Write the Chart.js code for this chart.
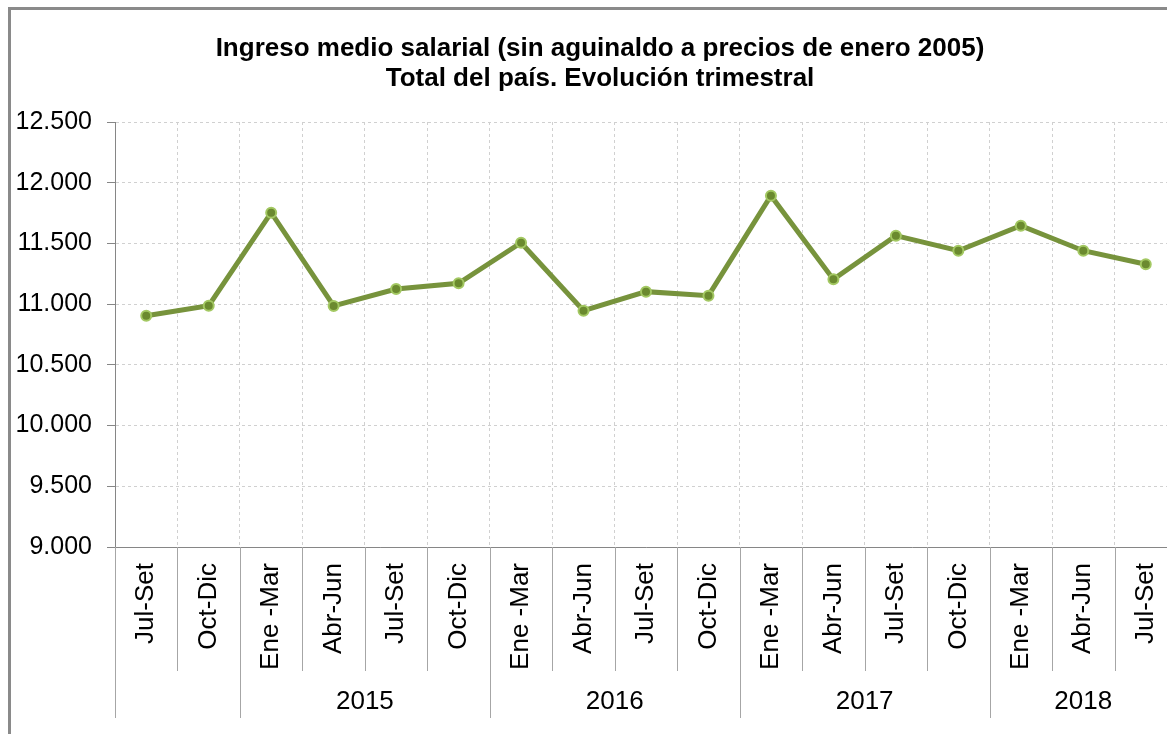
<!DOCTYPE html>
<html>
<head>
<meta charset="utf-8">
<script src="https://cdn.jsdelivr.net/npm/chart.js@4.4.1/dist/chart.umd.min.js"></script>
<style>
  html, body { margin: 0; padding: 0; background: #fff; overflow: hidden; }
  #wrap { position: absolute; left: 0; top: 0; width: 1195px; height: 734px; }
</style>
</head>
<body>
<div id="wrap"><canvas id="myChart" width="1195" height="734"></canvas></div>
<script>
const quarterLabels = ['Jul-Set', 'Oct-Dic',
  'Ene -Mar', 'Abr-Jun', 'Jul-Set', 'Oct-Dic',
  'Ene -Mar', 'Abr-Jun', 'Jul-Set', 'Oct-Dic',
  'Ene -Mar', 'Abr-Jun', 'Jul-Set', 'Oct-Dic',
  'Ene -Mar', 'Abr-Jun', 'Jul-Set']
const salaryValues = [10905, 10987, 11753, 10985, 11125, 11172, 11506, 10946, 11103,
  11070, 11893, 11204, 11564, 11440, 11646, 11440, 11328]
const yearLabels = ['', '2015', '2016', '2017', '2018']
const yearSizes = [2, 4, 4, 4, 3]
const yTicks = [9000, 9500, 10000, 10500, 11000, 11500, 12000, 12500]

const gFont = "'Liberation Sans', Arial, sans-serif"

function fmtThousands(v) {
  return String(v).replace(/\B(?=(\d{3})+(?!\d))/g, '.')
}

// gray frame of the original chart object (only left/top visible)
const frame = {
  id: 'frame',
  beforeDraw(chart) {
    const ctx = chart.ctx
    ctx.save()
    ctx.fillStyle = '#fff'
    ctx.fillRect(0, 0, chart.width, chart.height)
    ctx.fillStyle = '#8a8a8a'
    ctx.fillRect(8, 7, 3, chart.height)
    ctx.fillRect(8, 7, chart.width, 3)
    ctx.restore()
  }
}

// two level category axis: quarter separators + year groups
const axisTiers = {
  id: 'axisTiers',
  afterDraw(chart) {
    const { ctx, scales: { x }, chartArea } = chart
    const half = (x.getPixelForValue(1) - x.getPixelForValue(0)) / 2
    const top = chartArea.bottom
    const tierMid = top + 124
    const tierBottom = top + 171

    let bounds = [0]
    yearSizes.forEach(n => bounds.push(bounds[bounds.length - 1] + n))

    ctx.save()
    ctx.strokeStyle = '#a6a6a6'
    ctx.lineWidth = 1
    for (let i = 0; i <= quarterLabels.length; i++) {
      const px = Math.round(x.getPixelForValue(i) - half) + 0.5
      const yEnd = bounds.includes(i) ? tierBottom : tierMid
      ctx.beginPath()
      ctx.moveTo(px, top)
      ctx.lineTo(px, yEnd)
      ctx.stroke()
    }

    ctx.fillStyle = '#000'
    ctx.font = '26px ' + gFont
    ctx.textAlign = 'center'
    ctx.textBaseline = 'middle'
    yearLabels.forEach((lbl, k) => {
      const a = x.getPixelForValue(bounds[k]) - half
      const b = x.getPixelForValue(bounds[k + 1]) - half
      ctx.fillText(lbl, (a + b) / 2, top + 155)
    })
    ctx.restore()
  }
}

function displayChart() {
  const ctx = document.getElementById('myChart').getContext('2d')
  new Chart(ctx, {
    type: 'line',
    data: {
      labels: quarterLabels,
      datasets: [{
        label: 'Ingreso medio salarial',
        data: salaryValues,
        borderColor: '#77933c',
        borderWidth: 5,
        pointRadius: 5,
        pointBackgroundColor: '#6b8a2f',
        pointBorderColor: '#a3c862',
        pointBorderWidth: 2,
        tension: 0
      }]
    },
    options: {
      responsive: false,
      animation: false,
      devicePixelRatio: 1,
      layout: {
        padding: { left: 5, right: 0, top: 12, bottom: 63 }
      },
      scales: {
        x: {
          offset: true,
          grid: {
            offset: true,
            color: '#d0d0d0',
            drawTicks: false
          },
          border: { display: true, color: '#868686', width: 1, dash: [3, 3] },
          ticks: {
            autoSkip: false,
            minRotation: 90,
            maxRotation: 90,
            padding: 16,
            color: '#000',
            font: { family: gFont, size: 26 }
          },
          afterFit(scale) { scale.height = 124 }
        },
        y: {
          min: 9000,
          max: 12500,
          afterBuildTicks(scale) {
            scale.ticks = yTicks.map(v => ({ value: v }))
          },
          grid: {
            color: '#d0d0d0',
            tickLength: 8,
            tickColor: '#868686',
            tickBorderDash: []
          },
          border: { display: true, color: '#868686', width: 1, dash: [3, 3] },
          ticks: {
            padding: 15,
            color: '#000',
            font: { family: gFont, size: 25 },
            callback: v => fmtThousands(v)
          },
          afterFit(scale) { scale.width = 110 }
        },
        // empty right-hand spacer so the title stays centred on the whole frame
        yPad: {
          position: 'right',
          display: true,
          grid: { display: false },
          border: { display: false },
          ticks: { display: false },
          afterFit(scale) { scale.width = 18 }
        }
      },
      plugins: {
        legend: { display: false },
        tooltip: { enabled: false },
        title: {
          display: true,
          text: ['Ingreso medio salarial (sin aguinaldo a precios de enero 2005)',
            'Total del país. Evolución trimestral'],
          color: '#000',
          font: { family: gFont, size: 26, weight: 'bold', lineHeight: 30 / 26 },
          padding: { top: 22, bottom: 28 }
        }
      }
    },
    plugins: [frame, axisTiers]
  })
}

displayChart()
</script>
</body>
</html>
